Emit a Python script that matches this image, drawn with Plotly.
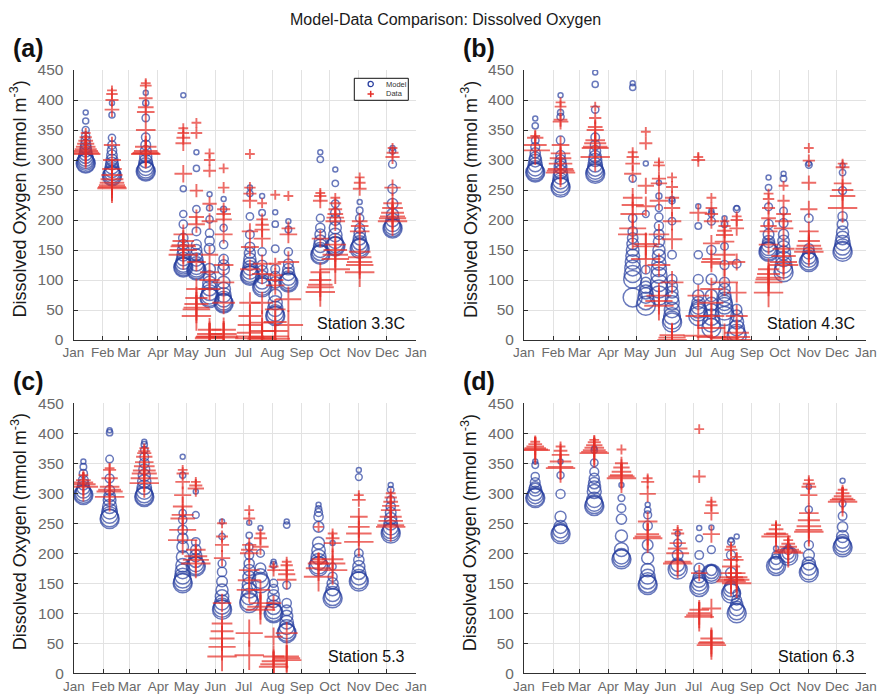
import plotly.graph_objects as go

W, H = 877, 694

MONTHS = ["Jan", "Feb", "Mar", "Apr", "May", "Jun", "Jul", "Aug", "Sep", "Oct", "Nov", "Dec", "Jan"]
MONTH_START = [0, 31, 59, 90, 120, 151, 181, 212, 243, 273, 304, 334, 365]
Y_TICKS = [0, 50, 100, 150, 200, 250, 300, 350, 400, 450]

# ---- Station 3.3C: cruise day-of-year, model and observed O2 profiles (surface -> bottom)
st33_days = [13, 41, 77, 117, 131, 145, 160, 188, 201, 215, 229, 263, 279, 305, 340]
st33_model = [
    [379, 365, 350, 340, 333, 326, 320, 315, 310, 306, 302, 299, 297, 295, 294],
    [395, 375, 337, 325, 316, 308, 300, 294, 288, 283, 279, 276, 274, 273],
    [412, 395, 370, 338, 325, 315, 306, 298, 292, 287, 284, 282, 281],
    [408, 252, 210, 193, 170, 159, 150, 142, 135, 130, 126, 124, 122, 121],
    [313, 286, 218, 181, 159, 150, 142, 134, 127, 122, 119, 117, 116],
    [243, 220, 201, 178, 165, 152, 118, 105, 95, 86, 79, 74, 71, 70],
    [235, 218, 187, 159, 135, 125, 118, 96, 85, 75, 68, 64, 62, 61],
    [254, 244, 206, 176, 155, 145, 135, 127, 120, 114, 110, 108, 107],
    [240, 212, 147, 125, 115, 105, 97, 92, 89, 88],
    [213, 193, 152, 118, 106, 96, 74, 62, 52, 45, 41, 40],
    [198, 184, 147, 127, 118, 110, 103, 99, 97, 96],
    [313, 301, 203, 187, 176, 165, 157, 150, 146, 143, 142],
    [284, 261, 227, 212, 200, 187, 175, 165, 159, 157, 156],
    [230, 216, 203, 186, 178, 169, 162, 157, 154, 152],
    [320, 315, 293, 252, 227, 209, 200, 193, 189, 187, 186],
]
st33_data = [
    [345, 338, 332, 327, 322, 318, 315, 312, 310],
    [416, 410, 400, 384, 325, 300, 285, 275, 268, 262, 258, 255, 253],
    [428, 424, 403, 388, 380, 350, 322, 315, 312, 311, 310],
    [353, 345, 337, 328, 277, 176, 165, 158, 156, 150, 142],
    [362, 345, 249, 205, 193, 130, 85, 70, 60, 54, 51, 40],
    [311, 300, 282, 227, 198, 142, 113, 100, 85, 17, 10, 6, 5, 3],
    [286, 254, 218, 210, 201, 176, 125, 96, 62, 17, 10, 6, 4],
    [310, 254, 244, 232, 181, 155, 118, 62, 40, 25, 12, 6, 3],
    [228, 201, 192, 184, 169, 127, 110, 62, 29, 15, 5, 2],
    [242, 127, 108, 100, 91, 51, 30, 15, 6, 2],
    [240, 186, 176, 130, 68, 25],
    [245, 240, 232, 169, 113, 100, 92, 88, 80],
    [237, 228, 218, 210, 204, 198, 159, 150, 142, 135, 118],
    [271, 262, 252, 198, 190, 181, 147, 138, 130, 125, 113],
    [320, 312, 305, 254, 228, 220, 212, 206, 203, 198],
]

# ---- Station 4.3C
st43_days = [12, 39, 76, 116, 130, 144, 158, 186, 200, 214, 227, 261, 277, 304, 340]
st43_model = [
    [369, 357, 333, 322, 312, 304, 299, 292, 286, 282, 280, 279],
    [408, 379, 372, 333, 308, 300, 294, 288, 280, 272, 265, 260, 256, 254],
    [446, 426, 384, 338, 325, 315, 306, 300, 292, 286, 282, 279, 277],
    [428, 421, 269, 203, 181, 170, 160, 150, 140, 130, 120, 110, 101, 71],
    [294, 210, 117, 96, 88, 80, 74, 65, 57],
    [262, 240, 220, 205, 190, 176, 164, 150, 140, 128, 118, 108, 95, 85, 74],
    [235, 232, 198, 142, 101, 90, 80, 70, 62, 50, 40, 33, 29],
    [223, 190, 142, 101, 74, 62, 55, 50, 46, 40],
    [215, 210, 198, 150, 101, 74, 60, 48, 38, 28, 20],
    [203, 193, 156, 125, 96, 85, 75, 68, 62, 57, 48, 40],
    [220, 218, 127, 51, 40, 30, 20, 12, 7],
    [271, 254, 222, 193, 176, 164, 158, 153, 150, 148, 147],
    [277, 269, 215, 195, 176, 165, 155, 145, 135, 125, 118, 113],
    [294, 292, 203, 152, 145, 138, 134, 131, 130],
    [291, 279, 249, 206, 193, 180, 170, 162, 155, 150, 147],
]
st43_data = [
    [340, 337, 325, 316],
    [396, 389, 367, 364, 325, 311, 303, 294, 285, 282, 279],
    [389, 370, 355, 350, 333, 328, 322, 320, 305],
    [313, 305, 294, 277, 237, 225, 210, 186, 176],
    [347, 328, 257, 223, 160, 156, 135],
    [296, 291, 269, 261, 232, 176, 125, 74, 65, 57],
    [271, 255, 237, 220, 198, 168, 96, 8, 4, 0],
    [305, 300, 212, 74, 40, 7],
    [237, 220, 210, 198, 161, 135, 130, 85, 62, 40, 20, 5],
    [198, 190, 182, 175, 164, 142, 127, 96, 3],
    [206, 200, 186, 130, 79, 40, 12, 5, 0],
    [244, 235, 220, 203, 190, 181, 159, 118, 110, 104, 101, 96, 79],
    [257, 232, 210, 198, 186, 152, 140, 130, 125],
    [320, 299, 262, 218, 181, 165, 157, 152, 147],
    [294, 288, 261, 250, 240, 220],
]

# ---- Station 5.3
st53_days = [10, 38, 75, 116, 130, 158, 187, 199, 213, 227, 261, 276, 304, 338]
st53_model = [
    [353, 344, 333, 322, 315, 309, 304, 300, 298, 297],
    [405, 401, 357, 325, 305, 295, 289, 278, 270, 264, 259, 257],
    [386, 381, 372, 361, 350, 340, 330, 320, 310, 303, 298, 295, 294],
    [361, 330, 267, 256, 239, 225, 211, 194, 180, 170, 162, 156, 152, 150],
    [303, 264, 219, 206, 196, 188, 182, 179, 178],
    [253, 228, 183, 169, 153, 139, 128, 118, 112, 108, 106],
    [251, 230, 211, 197, 183, 172, 160, 148, 138, 128, 120, 117],
    [242, 200, 175, 163, 155, 150],
    [186, 181, 150, 140, 130, 120, 110, 104, 101, 100],
    [253, 247, 147, 117, 105, 95, 85, 77, 71, 68, 67],
    [281, 274, 268, 261, 244, 217, 205, 194, 186, 180, 178],
    [217, 178, 161, 150, 140, 132, 127, 125],
    [339, 327, 200, 189, 178, 168, 160, 155, 153],
    [314, 306, 289, 278, 268, 258, 250, 243, 238, 235, 233],
]
st53_data = [
    [330, 322, 318, 315, 311],
    [342, 339, 325, 311, 306, 303, 294],
    [375, 370, 367, 361, 352, 345, 338, 333, 325, 317],
    [339, 333, 319, 297, 278, 264, 258, 239, 222],
    [319, 313, 308, 206, 195, 189, 183],
    [250, 228, 214, 192, 117, 83, 70, 58, 44, 28],
    [272, 258, 214, 206, 200, 172, 155, 139, 67, 30],
    [233, 225, 211, 139, 117, 111, 106],
    [178, 172, 117, 61, 28, 20, 15, 11],
    [186, 180, 172, 165, 156, 67, 28, 25, 22],
    [244, 190, 186, 183, 175, 161],
    [233, 225, 217, 190, 183, 172],
    [297, 289, 261, 244, 233, 219],
    [300, 293, 286, 279, 272, 261, 254, 247, 244],
]

# ---- Station 6.3
st63_days = [12, 39, 75, 104, 132, 164, 187, 200, 221, 227, 269, 282, 304, 340]
st63_model = [
    [353, 347, 328, 318, 310, 306, 300, 296, 293, 292],
    [353, 330, 299, 261, 244, 238, 234, 232],
    [375, 372, 351, 336, 325, 317, 310, 303, 289, 284, 281, 279],
    [314, 292, 275, 257, 229, 206, 195, 192, 190],
    [281, 272, 264, 246, 214, 192, 172, 161, 154, 149, 147],
    [233, 217, 197, 181, 176, 173],
    [242, 225, 197, 175, 161, 155, 150, 146, 144],
    [243, 206, 172, 169, 167, 166],
    [222, 219, 197, 167, 144, 140, 136, 133],
    [228, 133, 122, 115, 108, 103, 100],
    [208, 197, 190, 184, 180, 179],
    [211, 205, 200, 197, 196],
    [311, 273, 214, 197, 183, 176, 170, 168],
    [321, 283, 262, 244, 228, 220, 215, 212, 210],
]
st63_data = [
    [386, 382, 378, 375, 373, 372],
    [378, 371, 364, 353, 344, 342],
    [389, 385, 380, 376, 372, 369, 367],
    [373, 350, 343, 336, 330, 328, 325],
    [325, 319, 299, 253, 232, 228, 225],
    [239, 233, 217, 208, 200, 186, 183],
    [407, 328, 167, 106, 100, 97, 94],
    [286, 280, 267, 232, 108, 58, 52, 50, 47],
    [211, 206, 189, 178, 167, 160, 156, 153],
    [194, 189, 167, 160, 156, 150],
    [247, 240, 233, 232, 228],
    [222, 216, 211, 206, 203, 201],
    [322, 316, 311, 297, 267, 255, 245, 239, 236],
    [306, 300, 295, 291, 289, 286],
]

STATIONS = [
    ("Station 3.3C", st33_days, st33_model, st33_data),
    ("Station 4.3C", st43_days, st43_model, st43_data),
    ("Station 5.3", st53_days, st53_model, st53_data),
    ("Station 6.3", st63_days, st63_model, st63_data),
]

BLUE = "#2a40a0"
RED = "#e52e27"
FONT = "Liberation Sans, Arial, Helvetica, sans-serif"
TICK_GREY = "#6a6a6a"
AXIS_DARK = "#303030"
GRID = "#e2e2e2"

# panel geometry in pixels: (left, right, top, bottom)
PANELS = [(73.5, 416.0, 70.0, 340.0), (524.0, 866.0, 70.0, 340.0),
          (74.0, 416.0, 403.3, 673.3), (524.0, 866.0, 403.3, 673.3)]
PANEL_TAGS = ["(a)", "(b)", "(c)", "(d)"]


def px(x):
    return x / W


def py(y):
    return 1 - y / H


def flatten(days, profiles, smin, smax):
    """Place each profile at its cruise day; marker grows with depth rank."""
    xs, ys, ss = [], [], []
    for d, prof in zip(days, profiles):
        n = len(prof)
        for i, v in enumerate(prof):
            xs.append(d)
            ys.append(v)
            ss.append(smin + (smax - smin) * (i / (n - 1) if n > 1 else 0))
    return xs, ys, ss


fig = go.Figure()
layout = dict(
    template="none",
    width=W, height=H, margin=dict(l=0, r=0, t=0, b=0, autoexpand=False),
    paper_bgcolor="white", plot_bgcolor="white", showlegend=False,
    font=dict(family=FONT, color="#262626"),
)
annotations, shapes = [], []

for k, ((name, days, model, data), (l, r, t, b)) in enumerate(zip(STATIONS, PANELS)):
    sfx = "" if k == 0 else str(k + 1)
    xa, ya = "x" + sfx, "y" + sfx

    mx, my, ms = flatten(days, model, 5, 19)
    fig.add_trace(go.Scatter(
        x=mx, y=my, mode="markers", xaxis=xa, yaxis=ya, name="Model",
        marker=dict(symbol="circle-open", size=ms, color=BLUE, line=dict(width=1.5, color=BLUE)),
    ))
    dx, dy, ds = flatten(days, data, 7, 21)
    fig.add_trace(go.Scatter(
        x=dx, y=dy, mode="markers", xaxis=xa, yaxis=ya, name="Data",
        marker=dict(symbol="cross-thin-open", size=ds, color=RED, line=dict(width=1.9, color=RED)),
    ))

    layout["xaxis" + sfx] = dict(
        domain=[px(l), px(r)], anchor=ya, range=[0, 365], automargin=False,
        tickmode="array", tickvals=MONTH_START, ticktext=MONTHS,
        ticks="inside", ticklen=4, tickcolor=AXIS_DARK,
        tickfont=dict(size=13.5, color=TICK_GREY, family=FONT),
        showgrid=True, gridcolor=GRID, gridwidth=1,
        showline=True, linecolor=AXIS_DARK, linewidth=1, zeroline=False,
    )
    layout["yaxis" + sfx] = dict(
        domain=[py(b), py(t)], anchor=xa, range=[0, 450], automargin=False,
        tickmode="array", tickvals=Y_TICKS,
        ticks="inside", ticklen=4, tickcolor=AXIS_DARK,
        tickfont=dict(size=15.5, color=TICK_GREY, family=FONT),
        showgrid=True, gridcolor=GRID, gridwidth=1,
        showline=True, linecolor=AXIS_DARK, linewidth=1, zeroline=False,
        ticklabelstandoff=6,
    )

    # y-axis label
    annotations.append(dict(
        x=px(l - 55), y=py((t + b) / 2 - 6), xref="paper", yref="paper",
        text="Dissolved Oxygen (mmol m<sup>-3</sup>)", textangle=-90, showarrow=False,
        font=dict(size=18, color="#1a1a1a", family=FONT), xanchor="center", yanchor="middle",
    ))
    # panel tag
    annotations.append(dict(
        x=px(l - 63), y=py(t - 22), xref="paper", yref="paper", text="<b>%s</b>" % PANEL_TAGS[k],
        showarrow=False, font=dict(size=25, color="#111111", family=FONT),
        xanchor="left", yanchor="middle",
    ))
    # station name
    annotations.append(dict(
        x=px(r - 9), y=py(b - 17), xref="paper", yref="paper", text=name,
        showarrow=False, font=dict(size=16, color="#111111", family=FONT),
        xanchor="right", yanchor="middle",
    ))

# figure title
annotations.append(dict(
    x=px(445), y=py(19), xref="paper", yref="paper",
    text="Model-Data Comparison: Dissolved Oxygen", showarrow=False,
    font=dict(size=16, color="#1a1a1a", family=FONT), xanchor="center", yanchor="middle",
))

# legend box in panel (a)
shapes.append(dict(type="rect", xref="paper", yref="paper",
                   x0=px(354.3), x1=px(408.3), y0=py(100.3), y1=py(78.3),
                   line=dict(color="#111111", width=1), fillcolor="white"))
cx, cy1, cy2 = 370.7, 84.0, 94.0
shapes.append(dict(type="circle", xref="paper", yref="paper",
                   x0=px(cx - 2.6), x1=px(cx + 2.6), y0=py(cy1 + 2.6), y1=py(cy1 - 2.6),
                   line=dict(color=BLUE, width=1.3)))
shapes.append(dict(type="line", xref="paper", yref="paper",
                   x0=px(cx - 3.2), x1=px(cx + 3.2), y0=py(cy2), y1=py(cy2),
                   line=dict(color=RED, width=1.5)))
shapes.append(dict(type="line", xref="paper", yref="paper",
                   x0=px(cx), x1=px(cx), y0=py(cy2 - 3.2), y1=py(cy2 + 3.2),
                   line=dict(color=RED, width=1.5)))
for label, yy in (("Model", cy1), ("Data", cy2)):
    annotations.append(dict(
        x=px(384), y=py(yy), xref="paper", yref="paper", text=label, showarrow=False,
        font=dict(size=7.5, color="#333333", family=FONT), xanchor="left", yanchor="middle",
    ))

layout["annotations"] = annotations
layout["shapes"] = shapes
fig.update_layout(**layout)
fig.write_html("out.html")
